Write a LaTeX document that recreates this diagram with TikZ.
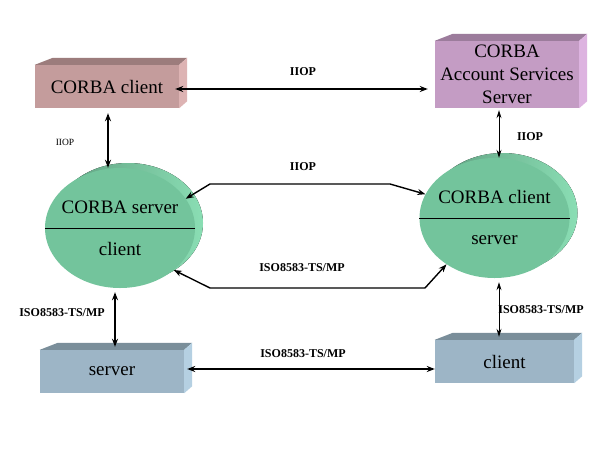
\documentclass[tikz,border=0pt]{standalone}
\usepackage{fontspec}
\setmainfont{Liberation Serif}
\usetikzlibrary{shapes.geometric,arrows.meta,calc}
\definecolor{roseF}{HTML}{C49C9C}
\definecolor{roseT}{HTML}{9C7C7C}
\definecolor{roseS}{HTML}{DDB3B3}
\definecolor{lilF}{HTML}{C49CC4}
\definecolor{lilT}{HTML}{9C7C9C}
\definecolor{lilS}{HTML}{DDB3E0}
\definecolor{bluF}{HTML}{9DB5C6}
\definecolor{bluT}{HTML}{7A8E9A}
\definecolor{bluS}{HTML}{B5D0E2}
\definecolor{grnF}{HTML}{73C49C}
\definecolor{grnD}{HTML}{5E9C7E}
\definecolor{grnL}{HTML}{8ADEB4}
\tikzset{
  boxfront/.style={rectangle, inner sep=0pt, font=\fontsize{19}{23}\selectfont, align=center},
  ellnode/.style={ellipse, inner sep=0pt, minimum width=150pt, minimum height=120pt, fill=grnF},
  bigtext/.style={font=\fontsize{19}{23}\selectfont},
  lbl/.style={font=\bfseries\fontsize{12}{14}\selectfont},
  smalllbl/.style={font=\fontsize{9.5}{11}\selectfont},
  dbl/.style={line width=1.4pt, {Stealth[length=8pt,width=6pt]}-{Stealth[length=8pt,width=6pt]}},
  thin dbl/.style={line width=0.9pt, {Stealth[length=8pt,width=5pt]}-{Stealth[length=8pt,width=5pt]}}
}
\newcommand{\prismfaces}[3]{%
  \fill[#2] (#1.north west) -- ++(18,-7) -- ($(#1.north east)+(8,-7)$) -- (#1.north east) -- cycle;
  \fill[#3] (#1.north east) -- ++(8,-7) -- ($(#1.south east)+(8,-7)$) -- (#1.south east) -- cycle;
}
\begin{document}
\begin{tikzpicture}[x=1pt,y=-1pt]
\useasboundingbox (0,0) rectangle (598,448);
\fill[white] (0,0) rectangle (598,448);

% boxes
\node[boxfront, fill=roseF, minimum width=144pt, minimum height=43pt] (cc) at (107,86.5) {CORBA client};
\prismfaces{cc}{roseT}{roseS}
\node[boxfront, fill=lilF, minimum width=144pt, minimum height=67pt] (acs) at (507,74.5) {CORBA\\Account Services\\Server};
\prismfaces{acs}{lilT}{lilS}
\node[boxfront, fill=bluF, minimum width=144pt, minimum height=43pt] (srv) at (112,371.5) {server};
\prismfaces{srv}{bluT}{bluS}
\node[boxfront, fill=bluF, minimum width=139pt, minimum height=43pt] (cli) at (504.5,361.5) {client};
\prismfaces{cli}{bluT}{bluS}

% ellipses (back shade then front)
\fill[left color=grnD, right color=grnL] (128,223) ellipse [x radius=75, y radius=60];
\node[ellnode] (ls) at (120,228) {};
\draw[line width=0.7pt] (ls.west) -- (ls.east);
\node[bigtext] (lst) at ($(ls.center)+(0,-21)$) {CORBA server};
\node[bigtext] (lsb) at ($(ls.center)+(0,21)$) {client};

\fill[left color=grnD, right color=grnL] (502.5,213) ellipse [x radius=75, y radius=60];
\node[ellnode] (rs) at (494.5,218) {};
\draw[line width=0.7pt] (rs.west) -- (rs.east);
\node[bigtext] (rst) at ($(rs.center)+(0,-21)$) {CORBA client};
\node[bigtext] (rsb) at ($(rs.center)+(0,22)$) {server};

% connectors
\draw[dbl] ($(cc.east)+(-4,2.5)$) -- ($(acs.west)+(-7,14.5)$);
\node[lbl] (l1) at (303,72) {IIOP};

\draw[dbl] ($(cc.south)+(1,5)$) -- ($(ls.north)+(-12,0)$);
\node[smalllbl] (l2) at (65,142) {IIOP};

\draw[thin dbl] ($(acs.south)+(-8,2)$) -- ($(rs.north)+(4.5,0)$);
\node[lbl] (l3) at (530,137) {IIOP};

\draw[dbl] (ls.24) -- (210,184) -- (390,184) -- (rs.161);
\node[lbl] (l4) at (303,167) {IIOP};

\draw[dbl] (ls.-38) -- (210,288) -- (425,288) -- (rs.224);
\node[lbl] (l5) at (302,268) {ISO8583-TS/MP};

\draw[dbl] ($(ls.south)+(-5,4)$) -- ($(srv.north)+(3,-3)$);
\node[lbl] (l6) at (62,313) {ISO8583-TS/MP};

\draw[thin dbl] ($(rs.south)+(4.5,4)$) -- ($(cli.north)+(-5.5,-3)$);
\node[lbl] (l7) at (541,310) {ISO8583-TS/MP};

\draw[dbl] ($(srv.east)+(3,-2.5)$) -- ($(cli.west)+(0,7.5)$);
\node[lbl] (l8) at (303,354) {ISO8583-TS/MP};
\end{tikzpicture}
\end{document}
